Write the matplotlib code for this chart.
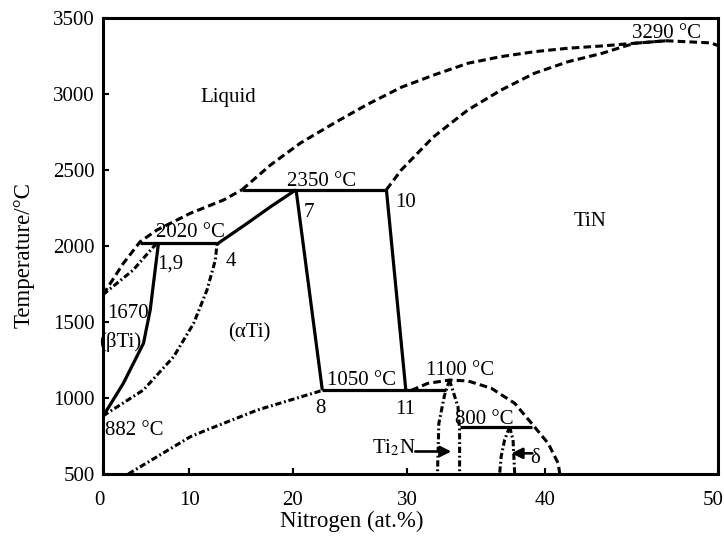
import numpy as np
import matplotlib
matplotlib.use("Agg")
import matplotlib.pyplot as plt
from matplotlib.transforms import ScaledTranslation

plt.rcParams['font.family'] = ['Liberation Serif', 'DejaVu Serif']
plt.rcParams['mathtext.fontset'] = 'stix'
plt.rcParams['lines.scale_dashes'] = False

# x axis of the original figure is not linear: tick value -> relative drawn distance
x_tick_vals = [0, 10, 20, 30, 40, 50]
x_tick_pos = [0, 86, 189, 303, 441, 613]
y_ticks = [500, 1000, 1500, 2000, 2500, 3000, 3500]

# phase boundaries (at.% N, deg C)
liq_low_x = [0, 2.36, 4.3, 6.24, 10.1, 13.33, 15.1]
liq_low_t = [1680, 1886, 2028, 2105, 2215, 2303, 2370]
liq_high_x = [15.1, 17.86, 20.7, 23.6, 26.5, 29.5, 31.95, 34.4, 36.8, 39.2, 41.3, 43.3, 45.2, 47.0, 49.6, 50]
liq_high_t = [2370, 2533, 2678, 2807, 2930, 3044, 3125, 3202, 3246, 3278, 3301, 3316, 3334, 3350, 3336, 3318]
tin_sol_x = [28.2, 29.5, 31.9, 34.4, 36.8, 39.2, 41.3, 43.3, 44.5, 45.2, 47.0]
tin_sol_t = [2370, 2500, 2717, 2895, 3026, 3136, 3212, 3268, 3311, 3334, 3350]
bti_sol_x = [0, 3.5, 5.85, 6.43]
bti_sol_t = [1680, 1842, 1995, 2020]
bti_solv_x = [0.03, 2.36, 4.69, 5.47, 5.85, 6.43]
bti_solv_t = [882, 1097, 1360, 1579, 1755, 2020]
ati_bnd_x = [0, 4.69, 8.19, 10.42, 11.71, 12.52, 12.69]
ati_bnd_t = [882, 1053, 1272, 1491, 1710, 1907, 2020]
ati_top_x = [12.84, 15.6, 17.86, 20.3]
ati_top_t = [2020, 2149, 2258, 2370]
ati_right_x = [20.3, 22.6]
ati_right_t = [2370, 1050]
ati_low_x = [2.93, 10.1, 11.7, 16.6, 22.6]
ati_low_t = [500, 745, 790, 921, 1050]
tin_left_x = [28.2, 29.9]
tin_left_t = [2370, 1050]
peri_2020_x = [4.3, 12.84]
peri_2350_x = [15.1, 28.2]
eut_1050_x = [22.6, 32.8]
eut_800_x = [33.8, 39.0]
ti2n_l_x = [33.07, 32.7, 32.3, 32.2]
ti2n_l_t = [1118, 1014, 833, 500]
ti2n_r_x = [33.07, 33.68, 33.8, 33.8]
ti2n_r_t = [1118, 943, 790, 500]
dome_x = [30.3, 31.5, 33.07, 34.4, 36.09, 37.78, 39.0, 40.16, 40.74, 40.83]
dome_t = [1050, 1096, 1118, 1112, 1064, 965, 833, 701, 570, 500]
delta_l_x = [37.41, 37.05, 36.8, 36.69]
delta_l_t = [810, 724, 614, 500]
delta_r_x = [37.41, 37.66, 37.78]
delta_r_t = [810, 724, 500]


def fwd(x):
    x = np.asarray(x, dtype=float)
    y = np.interp(x, x_tick_vals, x_tick_pos)
    s0 = (x_tick_pos[1] - x_tick_pos[0]) / (x_tick_vals[1] - x_tick_vals[0])
    s1 = (x_tick_pos[-1] - x_tick_pos[-2]) / (x_tick_vals[-1] - x_tick_vals[-2])
    y = np.where(x < x_tick_vals[0], x_tick_pos[0] + (x - x_tick_vals[0]) * s0, y)
    y = np.where(x > x_tick_vals[-1], x_tick_pos[-1] + (x - x_tick_vals[-1]) * s1, y)
    return y


def inv(y):
    y = np.asarray(y, dtype=float)
    x = np.interp(y, x_tick_pos, x_tick_vals)
    s0 = (x_tick_vals[1] - x_tick_vals[0]) / (x_tick_pos[1] - x_tick_pos[0])
    s1 = (x_tick_vals[-1] - x_tick_vals[-2]) / (x_tick_pos[-1] - x_tick_pos[-2])
    x = np.where(y < x_tick_pos[0], x_tick_vals[0] + (y - x_tick_pos[0]) * s0, x)
    x = np.where(y > x_tick_pos[-1], x_tick_vals[-1] + (y - x_tick_pos[-1]) * s1, x)
    return x


fig = plt.figure(figsize=(7.24, 5.43), dpi=100)
ax = fig.add_axes([0.1423, 0.1271, 0.8494, 0.8398])
ax.set_xscale('function', functions=(fwd, inv))

solid = dict(color='black', lw=2.3, solid_capstyle='butt')
dashed = dict(color='black', lw=2.2, linestyle=(0, (5.5, 3)))
dashdot = dict(color='black', lw=2.2, linestyle=(0, (4.5, 2, 1.3, 2)))

# liquidus / solidus
ax.plot(liq_low_x, liq_low_t, **dashed)
ax.plot(liq_high_x, liq_high_t, **dashed)
ax.plot(tin_sol_x, tin_sol_t, **dashed)
ax.plot(bti_sol_x, bti_sol_t, **dashdot)

# solid boundaries
ax.plot(bti_solv_x, bti_solv_t, **solid)
ax.plot(ati_top_x, ati_top_t, **solid)
ax.plot(ati_right_x, ati_right_t, **solid)
ax.plot(tin_left_x, tin_left_t, **solid)
ax.plot(peri_2020_x, [2020, 2020], **solid)
ax.plot(peri_2350_x, [2370, 2370], **solid)
ax.plot(eut_1050_x, [1050, 1050], **solid)
ax.plot(eut_800_x, [810, 810], **solid)

# dash-dot boundaries
ax.plot(ati_bnd_x, ati_bnd_t, **dashdot)
ax.plot(ati_low_x, ati_low_t, **dashdot)
ax.plot(ti2n_l_x, ti2n_l_t, **dashdot)
ax.plot(ti2n_r_x, ti2n_r_t, **dashdot)
ax.plot(dome_x, dome_t, **dashed)
ax.plot(delta_l_x, delta_l_t, **dashdot)
ax.plot(delta_r_x, delta_r_t, **dashdot)

fs = 15
ax.text(13.8, 2980, 'Liquid', fontsize=fs, ha='center', va='center')
ax.text(42.6, 2160, 'TiN', fontsize=fs, ha='center', va='center')
ax.text(47.0, 3395, '3290 °C', fontsize=fs, ha='center', va='center')
ax.text(22.5, 2424, '2350 °C', fontsize=fs, ha='center', va='center')
ax.text(10.1, 2089, '2020 °C', fontsize=fs, ha='center', va='center')
ax.text(6.23, 1882, '1,9', fontsize=fs, ha='left', va='center')
ax.text(13.98, 1895, '4', fontsize=fs, ha='center', va='center')
ax.text(21.4, 2220, '7', fontsize=fs, ha='center', va='center')
ax.text(29.9, 2286, '10', fontsize=fs, ha='center', va='center')
ax.text(22.4, 934, '8', fontsize=fs, ha='center', va='center')
ax.text(29.8, 924, '11', fontsize=fs, ha='center', va='center')
ax.text(26.05, 1118, '1050 °C', fontsize=fs, ha='center', va='center')
ax.text(33.8, 1181, '1100 °C', fontsize=fs, ha='center', va='center')
ax.text(35.6, 858, '800 °C', fontsize=fs, ha='center', va='center')
ax.text(0.23, 786, '882 °C', fontsize=fs, ha='left', va='center')
ax.text(0.43, 1559, '1670', fontsize=fs, ha='left', va='center')
ax.text(1.98, 1370, '(βTi)', fontsize=fs, ha='center', va='center')
ax.text(15.8, 1431, '(αTi)', fontsize=fs, ha='center', va='center')
ax.text(30.6, 672, 'Ti$_2$N', fontsize=fs, ha='right', va='center')
ax.text(39.25, 602, 'δ', fontsize=fs, ha='center', va='center')

arrow = dict(arrowstyle='-|>', lw=1.9, color='black', mutation_scale=16, shrinkA=0, shrinkB=0)
ax.annotate('', xy=(33.2, 648), xytext=(30.6, 648), arrowprops=arrow)
ax.annotate('', xy=(37.55, 636), xytext=(39.05, 636), arrowprops=arrow)

ax.set_xlim(0, 50)
ax.set_ylim(500, 3500)
ax.set_xticks(x_tick_vals)
ax.set_xticklabels([str(v) for v in x_tick_vals])
ax.set_yticks(y_ticks)
ax.minorticks_off()
ax.tick_params(direction='in', length=4, width=1.5, labelsize=15, top=False, right=False)
ax.tick_params(axis='x', pad=12)
ax.tick_params(axis='y', pad=6)
for sp in ax.spines.values():
    sp.set_linewidth(2.2)

# nudge end labels like in the original
xt = ax.xaxis.get_major_ticks()
xt[0].label1.set_transform(xt[0].label1.get_transform() + ScaledTranslation(-0.04, 0, fig.dpi_scale_trans))
xt[-1].label1.set_transform(xt[-1].label1.get_transform() + ScaledTranslation(-0.05, 0, fig.dpi_scale_trans))

ax.set_xlabel('Nitrogen (at.%)', fontsize=16.5)
ax.set_ylabel('Temperature/°C', fontsize=16.5)
ax.xaxis.set_label_coords(0.405, -0.08)
ax.yaxis.set_label_coords(-0.112, 0.48)

fig.savefig('out.png', dpi=100)
